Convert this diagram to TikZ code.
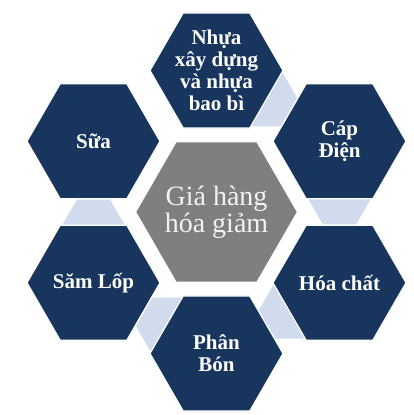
\documentclass[tikz,border=0pt]{standalone}
\usepackage{fontspec}
\setmainfont{Liberation Serif}
\usetikzlibrary{shapes.geometric,calc}
\definecolor{navy}{HTML}{17355D}
\definecolor{lightlink}{HTML}{D1DBEE}
\definecolor{centergray}{HTML}{7F7F7F}
\begin{document}
\begin{tikzpicture}[x=1pt,y=-1pt,
  hexbase/.style={regular polygon,regular polygon sides=6,inner sep=0pt,outer sep=0pt},
  outerhex/.style={hexbase,minimum size=133pt,fill=navy,draw=white,line width=1.2pt},
  centerhex/.style={hexbase,minimum size=162pt,fill=centergray,draw=white,line width=1.2pt},
  linkhex/.style={hexbase,minimum size=66pt,fill=lightlink},
  outerlbl/.style={text=white,align=center,font=\bfseries\fontsize{21}{22}\selectfont,inner sep=0pt},
  centerlbl/.style={text=white!95!black,align=center,font=\fontsize{28}{27}\selectfont,inner sep=0pt}
]
\useasboundingbox[fill=white] (0,0) rectangle (413,415);
% positions
\coordinate (c0) at (216.5,212);
\coordinate (c1) at (216.5,70.5);
\coordinate (c2) at (339.5,141.25);
\coordinate (c3) at (339.5,282.75);
\coordinate (c4) at (216.5,353.5);
\coordinate (c5) at (93.5,282.75);
\coordinate (c6) at (93.5,141.25);
% connectors (behind)
\node[linkhex] (l12) at ($(c1)!0.387!(c2)$) {};
\node[linkhex] (l23) at ($(c2)!0.387!(c3)$) {};
\node[linkhex] (l34) at ($(c3)!0.387!(c4)$) {};
\node[linkhex] (l45) at ($(c4)!0.387!(c5)$) {};
\node[linkhex] (l56) at ($(c5)!0.387!(c6)$) {};
% hexagons
\node[centerhex] (h0) at (c0) {};
\node[outerhex] (h1) at (c1) {};
\node[outerhex] (h2) at (c2) {};
\node[outerhex] (h3) at (c3) {};
\node[outerhex] (h4) at (c4) {};
\node[outerhex] (h5) at (c5) {};
\node[outerhex] (h6) at (c6) {};
% labels
\node[centerlbl] (t0) at (h0) {Giá hàng\\hóa giảm};
\node[outerlbl] (t1) at (h1) {Nhựa\\xây dựng\\và nhựa\\bao bì};
\node[outerlbl] (t2) at (h2) {Cáp\\Điện};
\node[outerlbl] (t3) at (h3) {Hóa chất};
\node[outerlbl] (t4) at (h4) {Phân\\Bón};
\node[outerlbl] (t5) at (h5) {Săm Lốp};
\node[outerlbl] (t6) at (h6) {Sữa};
\end{tikzpicture}
\end{document}
